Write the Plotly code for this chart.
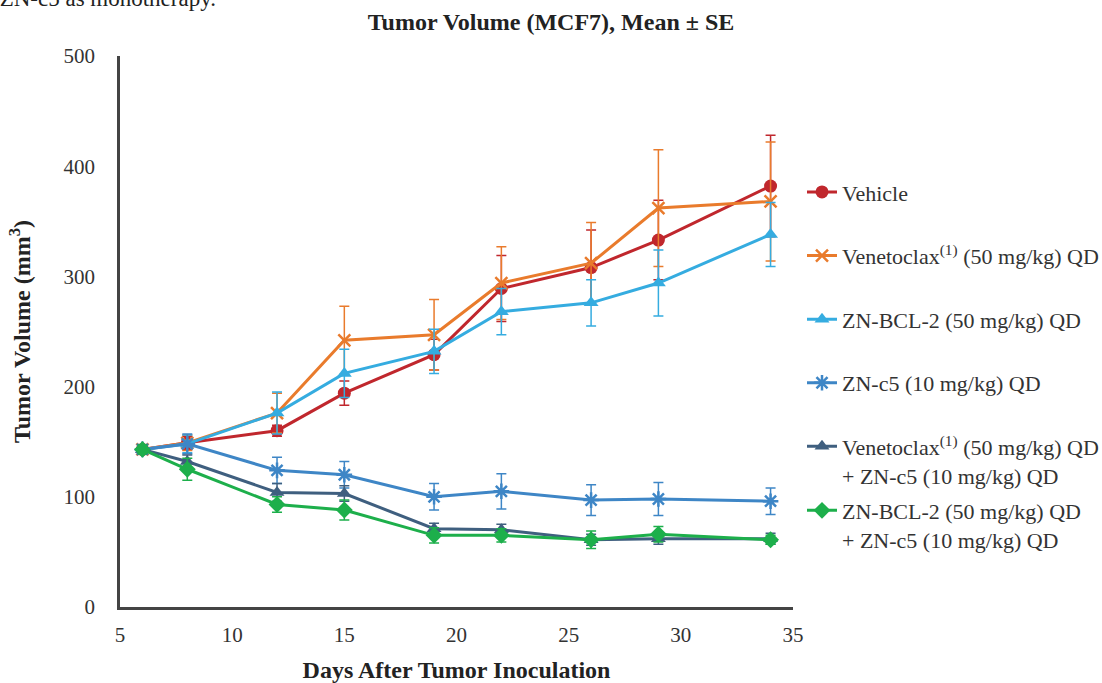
import plotly.graph_objects as go

days = [6, 8, 12, 15, 19, 22, 26, 29, 34]

names = [
    "Vehicle",
    "Venetoclax<sup>(1)</sup> (50 mg/kg) QD",
    "ZN-BCL-2 (50 mg/kg) QD",
    "ZN-c5 (10 mg/kg) QD",
    "Venetoclax<sup>(1)</sup> (50 mg/kg) QD<br>+ ZN-c5 (10 mg/kg) QD",
    "ZN-BCL-2 (50 mg/kg) QD<br>+ ZN-c5 (10 mg/kg) QD",
]

vehicle = [143, 149, 160, 194, 229, 289, 308, 333, 382]
vehicle_se = [4, 6, 5, 11, 14, 30, 34, 36, 46]

venetoclax = [143, 149, 176, 242, 247, 294, 312, 362, 368]
venetoclax_se = [4, 7, 18, 31, 32, 33, 37, 53, 54]

zn_bcl2 = [143, 148, 176, 212, 232, 268, 276, 294, 338]
zn_bcl2_se = [4, 8, 19, 22, 20, 21, 21, 30, 29]

zn_c5 = [143, 148, 124, 120, 100, 105, 97, 98, 96]
zn_c5_se = [4, 9, 12, 12, 12, 16, 14, 15, 12]

ven_c5 = [143, 132, 104, 103, 71, 70, 61, 62, 62]
ven_c5_se = [4, 6, 8, 7, 5, 5, 5, 5, 5]

bcl2_c5 = [143, 125, 93, 88, 65, 65, 61, 66, 61]
bcl2_c5_se = [4, 10, 7, 9, 7, 6, 8, 7, 4]

series = [vehicle, venetoclax, zn_bcl2, zn_c5, ven_c5, bcl2_c5]
errors = [vehicle_se, venetoclax_se, zn_bcl2_se, zn_c5_se, ven_c5_se, bcl2_c5_se]
colors = ["#C0272D", "#E97B2C", "#35ACE0", "#3E86C6", "#3F5F7F", "#1DAF4B"]
symbols = ["circle", "x-thin-open", "triangle-up", "asterisk-open", "triangle-up", "diamond"]
sizes = [13, 12, 13, 13, 13, 13]
legends = ["legend", "legend", "legend", "legend", "legend", "legend2"]

FONT = "Liberation Serif"
TXT = "#333333"

fig = go.Figure()
for i in range(6):
    fig.add_trace(go.Scatter(
        x=days, y=series[i], name=names[i], mode="lines+markers",
        legendgroup=f"g{i}", legend=legends[i],
        line=dict(color=colors[i], width=3),
        marker=dict(symbol=symbols[i], size=sizes[i], color=colors[i],
                    line=dict(color=colors[i], width=2.5 if "open" in symbols[i] else 0)),
        error_y=dict(type="data", array=errors[i], visible=True, color=colors[i],
                     thickness=1.5, width=5),
    ))

fig.update_layout(
    width=1102, height=683,
    margin=dict(l=120, r=309, t=56, b=76, autoexpand=False),
    paper_bgcolor="white", plot_bgcolor="white",
    font=dict(family=FONT, size=22, color=TXT),
    title=dict(text="<b>Tumor Volume (MCF7), Mean ± SE</b>", x=0.5, xref="container",
               xanchor="center", y=1 - 22 / 683, yanchor="middle",
               font=dict(family=FONT, size=24, color="#222222")),
    xaxis=dict(range=[5, 35], tickvals=[5, 10, 15, 20, 25, 30, 35], showgrid=False,
               zeroline=False, showline=True, linecolor="#444444", linewidth=2.5,
               ticks="", tickfont=dict(size=21, color=TXT), ticklabelstandoff=7,
               automargin=False,
               title=dict(text="<b>Days After Tumor Inoculation</b>", standoff=16,
                          font=dict(size=24, color="#222222"))),
    yaxis=dict(range=[0, 500], tickvals=[0, 100, 200, 300, 400, 500], showgrid=False,
               zeroline=False, showline=True, linecolor="#444444", linewidth=2.5,
               ticks="", tickfont=dict(size=21, color=TXT), ticklabelstandoff=18,
               automargin=False,
               title=dict(text="<b>Tumor Volume (mm<sup>3</sup>)</b>", standoff=27,
                          font=dict(size=24, color="#222222"))),
    legend=dict(x=1 + 9 / 673, xanchor="left", y=0.791, yanchor="top", tracegroupgap=32,
                valign="top", font=dict(size=22, color=TXT), bgcolor="rgba(0,0,0,0)"),
    legend2=dict(x=1 + 9 / 673, xanchor="left", y=0.2132, yanchor="top",
                 valign="top", font=dict(size=22, color=TXT), bgcolor="rgba(0,0,0,0)"),
    annotations=[dict(text="with ZN-c5 as monotherapy.", xref="paper", yref="paper",
                      x=(218 - 120) / 673, xanchor="right", y=1 + (56 + 2) / 551,
                      yanchor="middle", showarrow=False,
                      font=dict(family=FONT, size=23, color="#222222"))],
)

fig.write_html("out.html", config={"displayModeBar": False},
               post_script="document.body.style.margin='0px';document.body.style.padding='0px';")
